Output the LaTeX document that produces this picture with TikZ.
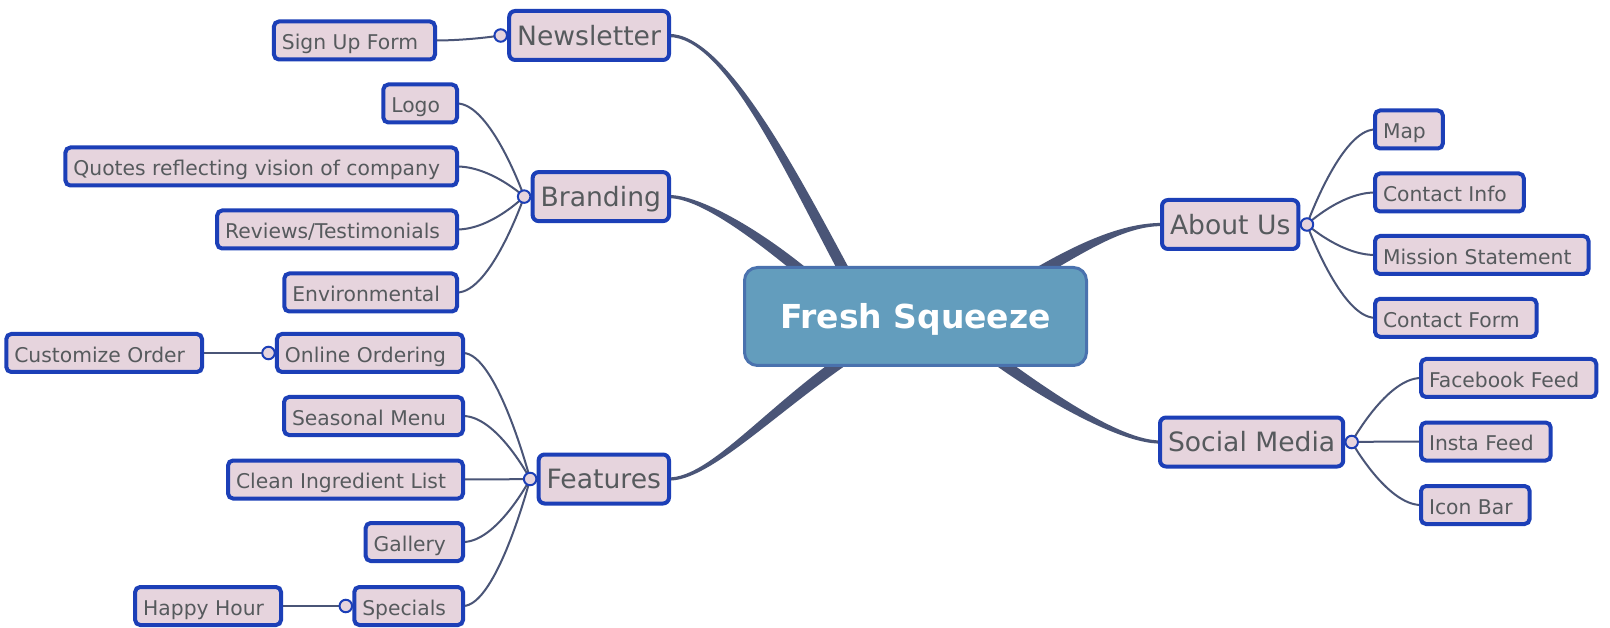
\documentclass[tikz,border=0pt]{standalone}
\usepackage{fontspec}
\setmainfont{DejaVu Sans}
\usetikzlibrary{calc,backgrounds}

\definecolor{boxfill}{HTML}{E6D4DD}
\definecolor{boxline}{HTML}{1C3FB7}
\definecolor{txtgray}{HTML}{565A5D}
\definecolor{hubfill}{HTML}{639DBD}
\definecolor{hubline}{HTML}{4A72AE}
\definecolor{wirecol}{HTML}{4A5577}

\newcommand\leafsize{\fontsize{20.3pt}{24pt}\selectfont}
\newcommand\topicsize{\fontsize{26.6pt}{31pt}\selectfont}
\newcommand\hubsize{\fontsize{33pt}{38pt}\selectfont\bfseries}

% tapered main branch: start point, two control points, end point
\newcommand\branch[4]{%
  \fill[wirecol] ($(#1)!1.6pt!90:(#2)$)
    .. controls ($(#2)!1.6pt!-90:(#1)$) and ($(#3)!5.5pt!90:(#4)$) .. ($(#4)!5.5pt!-90:(#3)$)
    -- ($(#4)!5.5pt!90:(#3)$)
    .. controls ($(#3)!5.5pt!-90:(#4)$) and ($(#2)!1.6pt!90:(#1)$) .. ($(#1)!1.6pt!-90:(#2)$)
    -- cycle;}
% thin links from a leaf to a junction circle
\newcommand\leftwire[2]{\draw[thinwire] (#1.east) .. controls ($(#1.east)+(34,0)$) and (#2.center) .. (#2.center);}
\newcommand\rightwire[2]{\draw[thinwire] (#1.center) .. controls (#1.center) and ($(#2.west)+(-34,0)$) .. (#2.west);}

\begin{document}
\begin{tikzpicture}[x=1pt,y=-1pt,
  leaf/.style={draw=boxline, fill=boxfill, line width=4pt, rounded corners=5pt,
    text=txtgray, font=\leafsize, inner xsep=8pt, inner ysep=0pt,
    minimum height=38pt, text height=18.8pt, text depth=0pt, outer sep=0pt,
    execute at end node={\hspace*{9pt}}},
  topic/.style={draw=boxline, fill=boxfill, line width=4pt, rounded corners=6pt,
    text=txtgray, font=\topicsize, inner xsep=8pt, inner ysep=0pt,
    minimum height=49pt, text height=19.4pt, text depth=0pt, outer sep=0pt},
  hub/.style={draw=hubline, fill=hubfill, line width=3pt, rounded corners=13pt,
    text=white, font=\hubsize, inner sep=0pt, minimum width=342pt,
    minimum height=98pt, text height=24pt, text depth=0pt, outer sep=0pt},
  jn/.style={circle, draw=boxline, fill=boxfill, line width=2pt,
    minimum size=12.5pt, inner sep=0pt},
  thinwire/.style={draw=wirecol, line width=2pt}]

\begin{pgfonlayer}{background}
  \fill[white] (0,0) rectangle (1610,628);
\end{pgfonlayer}
\useasboundingbox (0,0) rectangle (1610,628);

% central topic and main branches' topics
\node[hub] (fs) at (915.5,316.5) {Fresh Squeeze};
\node[topic, anchor=east] (nl) at (669,35.5) {Newsletter};
\node[topic, anchor=east] (br) at (669,196.6) {Branding};
\node[topic, anchor=east] (ft) at (669,479) {Features};
\node[topic, anchor=west] (au) at (1162,224.5) {About Us};
\node[topic, anchor=west] (sm) at (1160,442) {Social Media};

% junction circles
\node[jn] (nlj) at ($(nl.west)+(-8.5,0)$) {};
\node[jn] (brj) at ($(br.west)+(-8.5,0)$) {};
\node[jn] (ftj) at ($(ft.west)+(-8.5,0)$) {};
\node[jn] (auj) at ($(au.east)+(8.5,0)$) {};
\node[jn] (smj) at ($(sm.east)+(8.5,0)$) {};

% leaves on the left
\node[leaf, anchor=east] (sf) at (435,40.5) {Sign Up Form};
\node[leaf, anchor=east] (lg) at (457,103.5) {Logo};
\node[leaf, anchor=east] (qt) at (457,166.5) {Quotes reflecting vision of company};
\node[leaf, anchor=east] (rv) at (457,229.5) {Reviews/Testimonials};
\node[leaf, anchor=east] (ev) at (457,292.5) {Environmental};
\node[leaf, anchor=east] (oo) at (463,353) {Online Ordering};
\node[leaf, anchor=east] (sn) at (463,416) {Seasonal Menu};
\node[leaf, anchor=east] (ci) at (463,479.5) {Clean Ingredient List};
\node[leaf, anchor=east] (gl) at (463,542) {Gallery};
\node[leaf, anchor=east] (sp) at (463,606) {Specials};
\node[jn] (ooj) at ($(oo.west)+(-8.5,0)$) {};
\node[jn] (spj) at ($(sp.west)+(-8.5,0)$) {};
\node[leaf, anchor=east] (co) at (202,353) {Customize Order};
\node[leaf, anchor=east] (hh) at (281,606) {Happy Hour};

% leaves on the right
\node[leaf, anchor=west] (mp) at (1375,129.5) {Map};
\node[leaf, anchor=west] (cn) at (1375,192.5) {Contact Info};
\node[leaf, anchor=west] (ms) at (1375,255) {Mission Statement};
\node[leaf, anchor=west] (cf) at (1375,317.8) {Contact Form};
\node[leaf, anchor=west] (fb) at (1421,378) {Facebook Feed};
\node[leaf, anchor=west] (ig) at (1421,441.5) {Insta Feed};
\node[leaf, anchor=west] (ib) at (1421,505) {Icon Bar};

% control points of the main branches
\coordinate (nl1) at ($(nl.east)+(56,0)$);
\coordinate (nl2) at ($(fs.north)+(-125.5,-97.5)$);
\coordinate (nl3) at ($(fs.north)+(-67,11.5)$);
\coordinate (br1) at ($(br.east)+(30,0)$);
\coordinate (br2) at ($(fs.north)+(-160.5,-35.5)$);
\coordinate (br3) at ($(fs.north)+(-104.5,11.5)$);
\coordinate (ft1) at ($(ft.east)+(41,0)$);
\coordinate (ft2) at ($(fs.south)+(-145.5,44.5)$);
\coordinate (ft3) at ($(fs.south)+(-64.5,-10.5)$);
\coordinate (au1) at ($(au.west)+(-37,0)$);
\coordinate (au2) at ($(fs.north)+(169.5,-22.5)$);
\coordinate (au3) at ($(fs.north)+(115.5,9.5)$);
\coordinate (sm1) at ($(sm.west)+(-40,0)$);
\coordinate (sm2) at ($(fs.south)+(129.5,29.5)$);
\coordinate (sm3) at ($(fs.south)+(72.5,-12.5)$);

\begin{pgfonlayer}{background}
  \branch{nl.east}{nl1}{nl2}{nl3}
  \branch{br.east}{br1}{br2}{br3}
  \branch{ft.east}{ft1}{ft2}{ft3}
  \branch{au.west}{au1}{au2}{au3}
  \branch{sm.west}{sm1}{sm2}{sm3}

  \leftwire{sf}{nlj}
  \leftwire{lg}{brj}
  \leftwire{qt}{brj}
  \leftwire{rv}{brj}
  \leftwire{ev}{brj}
  \leftwire{oo}{ftj}
  \leftwire{sn}{ftj}
  \leftwire{ci}{ftj}
  \leftwire{gl}{ftj}
  \leftwire{sp}{ftj}
  \leftwire{co}{ooj}
  \leftwire{hh}{spj}

  \rightwire{auj}{mp}
  \rightwire{auj}{cn}
  \rightwire{auj}{ms}
  \rightwire{auj}{cf}
  \rightwire{smj}{fb}
  \rightwire{smj}{ig}
  \rightwire{smj}{ib}
\end{pgfonlayer}
\end{tikzpicture}
\end{document}
